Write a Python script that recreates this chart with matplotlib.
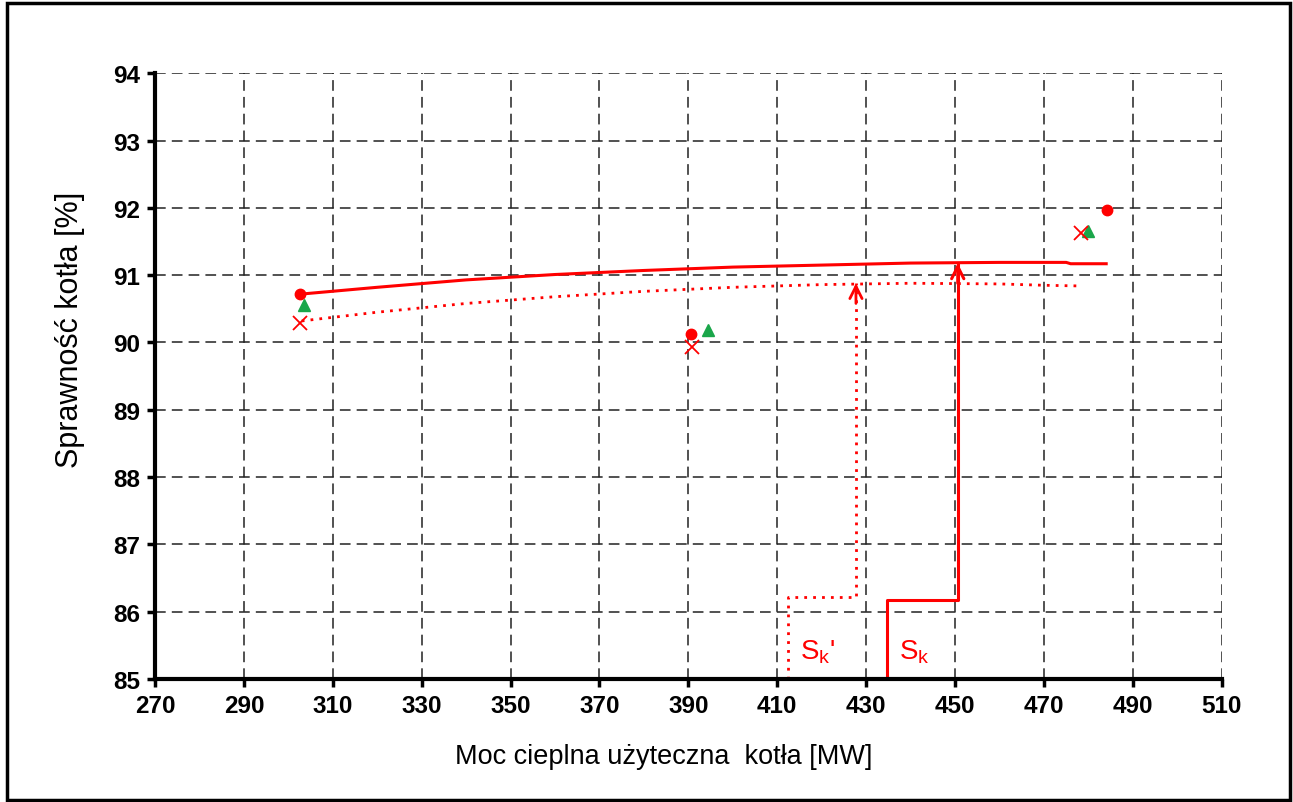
import matplotlib.pyplot as plt
from matplotlib.patches import Rectangle

plt.rcParams['font.family'] = ['Liberation Sans', 'DejaVu Sans']

# efficiency curves (S_k solid, S_k' dotted)
curve_x = [303, 320, 340, 360, 380, 400, 420, 440, 460, 475, 476, 484]
curve_y = [90.72, 90.82, 90.93, 91.01, 91.07, 91.12, 91.15, 91.18, 91.19, 91.19, 91.17, 91.17]
curve2_x = [303, 320, 340, 360, 380, 400, 420, 440, 460, 470, 478]
curve2_y = [90.32, 90.45, 90.58, 90.68, 90.76, 90.82, 90.86, 90.88, 90.87, 90.85, 90.84]

# measurement points
circle_x = [302.6, 390.6, 484.2]
circle_y = [90.72, 90.13, 91.97]
tri_x = [303.5, 394.4, 479.8]
tri_y = [90.56, 90.19, 91.66]
cross_x = [302.6, 390.8, 478.4]
cross_y = [90.29, 89.94, 91.63]

# reading paths
sk_x = [434.7, 434.7, 450.6, 450.6]
sk_y = [85.0, 86.18, 86.18, 91.18]
sk2_x = [412.3, 412.3, 427.7, 427.7]
sk2_y = [85.0, 86.22, 86.22, 90.88]

xticks = list(range(270, 511, 20))
yticks = list(range(85, 95))

fig = plt.figure(figsize=(12.93, 8.03), dpi=100)
ax = fig.add_axes([0.1199, 0.1532, 0.8250, 0.7543])

red = '#ff0000'
dots = (0, (1, 2.2))
ax.plot(curve_x, curve_y, color=red, lw=2.2, zorder=3)
ax.plot(curve2_x, curve2_y, color=red, lw=2, ls=dots, zorder=3)

ax.plot(circle_x, circle_y, 'o', color=red, ms=7.5, zorder=4)
ax.plot(tri_x, tri_y, '^', color='#1aa64a', ms=8.5, zorder=4)
ax.plot(cross_x, cross_y, 'x', color=red, ms=10, mew=1.3, zorder=4)

ax.plot(sk_x, sk_y, color=red, lw=2.2, zorder=3)
ax.plot(sk2_x, sk2_y, color=red, lw=2, ls=dots, zorder=3)
for px, py, lw in [(sk_x, sk_y, 2.2), (sk2_x, sk2_y, 2)]:
    ax.annotate('', xy=(px[-1], py[-1]), xytext=(px[-1], py[-1] - 0.3),
                arrowprops=dict(arrowstyle='->', color=red, lw=lw, mutation_scale=22,
                                shrinkA=0, shrinkB=0), zorder=3)

ax.text(415.0, 85.42, r"S$_\mathregular{k}$'", color=red, fontsize=20, va='center')
ax.text(437.3, 85.42, r"S$_\mathregular{k}$", color=red, fontsize=20, va='center')

ax.set_xlim(270, 510)
ax.set_ylim(85, 94)
ax.set_xticks(xticks)
ax.set_yticks(yticks)
ax.grid(True, color='#222222', lw=1.1, ls=(0, (7, 4)))
ax.set_axisbelow(True)

for side in ['top', 'right']:
    ax.spines[side].set_visible(False)
for side in ['left', 'bottom']:
    ax.spines[side].set_linewidth(3)
    ax.spines[side].set_zorder(5)
ax.tick_params(direction='out', length=6, width=2.5, labelsize=17.5, pad=5)
for lab in ax.get_xticklabels() + ax.get_yticklabels():
    lab.set_fontweight('bold')

ax.set_xlabel('Moc cieplna użyteczna  kotła [MW]', fontsize=19.5)
ax.set_ylabel('Sprawność kotła [%]', fontsize=22)
ax.xaxis.set_label_coords(0.477, -0.105)
ax.yaxis.set_label_coords(-0.066, 0.578)

fig.patches.append(Rectangle((0.0055, 0.003), 0.9925, 0.9915, transform=fig.transFigure,
                             fill=False, edgecolor='black', lw=2.5))

fig.savefig('out.png', dpi=100, facecolor='white')
